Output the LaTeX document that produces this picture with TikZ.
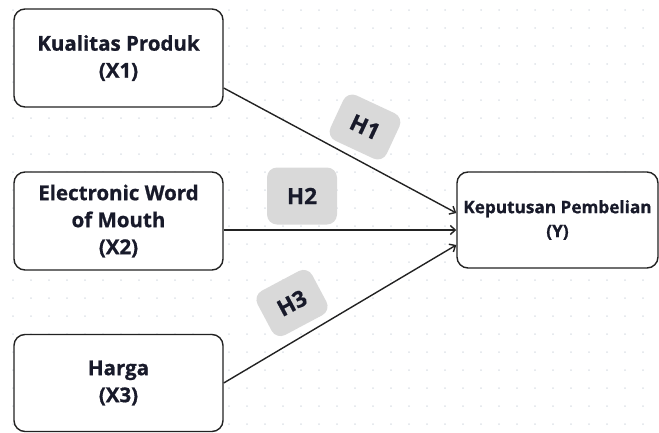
\documentclass[tikz,border=0pt]{standalone}
\usepackage{fontspec}
\setmainfont{Open Sans}[BoldFont={Open Sans Bold}, BoldFeatures={FakeBold=0.8}]
\usetikzlibrary{arrows.meta}

\definecolor{ink}{RGB}{24,26,42}
\definecolor{boxline}{RGB}{34,34,34}
\definecolor{hypgray}{RGB}{217,217,217}
\definecolor{dotgray}{RGB}{222,226,232}

\begin{document}
\begin{tikzpicture}[x=1pt,y=-1pt,
    var/.style={draw=boxline, line width=1.4pt, rounded corners=11pt, fill=white,
        align=center, text=ink, minimum width=209pt, minimum height=98pt,
        font=\bfseries\fontsize{20.5}{27}\selectfont},
    hyp/.style={fill=hypgray, rounded corners=10pt, minimum width=62pt, minimum height=50pt,
        text=ink, font=\bfseries\fontsize{22.5}{25}\selectfont},
    link/.style={draw=boxline, line width=1.4pt, -{Straight Barb[length=5pt,width=9pt]}}]
        \useasboundingbox (0,0) rectangle (659,432);
        % dotted background
        \foreach \i in {0,...,36}
            \foreach \j in {0,...,23}
                \fill[dotgray] (13+18*\i,10+18*\j) circle (1pt);

        \node[var] (x1) at (118.5,58) {Kualitas Produk\\(X1)};
        \node[var] (x2) at (118.5,221) {Electronic Word\\of Mouth\\(X2)};
        \node[var, minimum height=97pt] (x3) at (118.5,383) {Harga\\(X3)};
        \node[var, minimum width=201pt, minimum height=96pt,
              font=\bfseries\fontsize{17.2}{24}\selectfont] (y) at (557.5,220) {Keputusan Pembelian\\(Y)};

        \draw[link] ([yshift=-30pt]x1.east) -- ([yshift=7pt]y.west);
        \draw[link] ([yshift=-9pt]x2.east) -- ([yshift=-10pt]y.west);
        \draw[link] (x3.east) -- ([yshift=-25pt]y.west);

        \node[hyp, rotate=-25] (h1) at (365,127) {H1};
        \node[hyp, minimum width=70pt, minimum height=57pt] (h2) at (302,196) {H2};
        \node[hyp, rotate=28] (h3) at (292,303) {H3};
\end{tikzpicture}
\end{document}
